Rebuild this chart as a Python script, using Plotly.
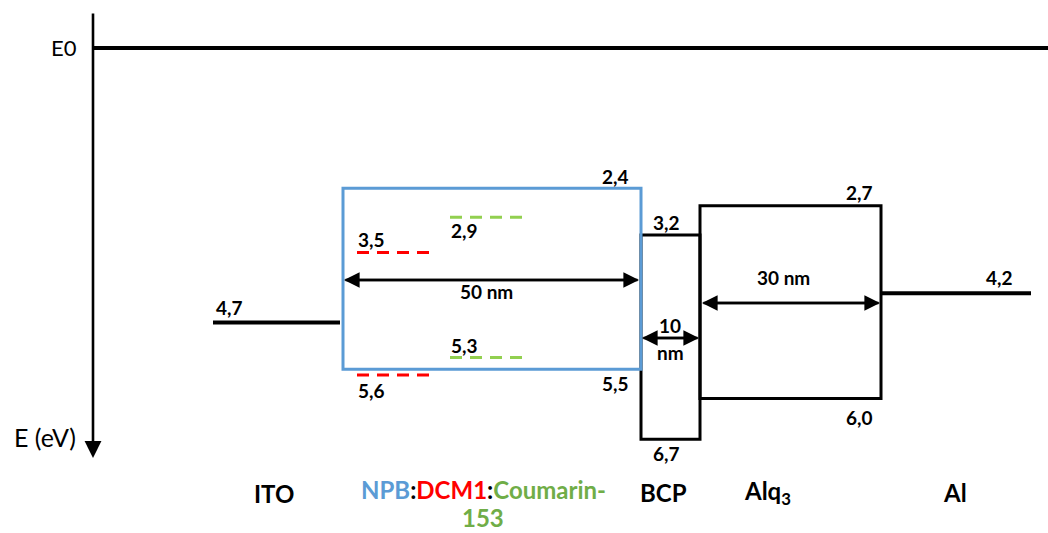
import plotly.graph_objects as go

# ---- energy levels (eV below vacuum) ----
layers = ["ITO", "NPB", "BCP", "Alq3", "Al"]
lumo = [None, 2.4, 3.2, 2.7, None]
homo = [None, 5.5, 6.7, 6.0, None]
work_fn = {"ITO": 4.7, "Al": 4.2}
dopant_names = ["DCM1", "Coumarin-153"]
dopant_lumo = [3.5, 2.9]
dopant_homo = [5.6, 5.3]
thickness_nm = {"NPB": 50, "BCP": 10, "Alq3": 30}
vacuum_level = 0.0

# ---- geometry (horizontal extents in px) ----
W, H = 1048, 533
X_AXIS = 93
span = {"ITO": (213, 340), "NPB": (343, 641), "BCP": (641, 700),
        "Alq3": (700, 881), "Al": (881, 1031)}
dopant_span = [(357, 430), (450, 523)]
PX_PER_EV, PX_ZERO = 58.4, 48.0

BLUE, RED, GREEN_DASH, GREEN_TXT = "#5B9BD5", "#FF0000", "#92D050", "#70AD47"
FONT = "Lato, 'Open Sans', sans-serif"
VAL_SIZE = 19
NAME_SIZE = 24


def py(px):
    """domain fraction for a pixel row"""
    return 1 - px / H


def fmt(v):
    return f"{v:.1f}".replace(".", ",")


fig = go.Figure()
shapes, ann = [], []


def hline(x0, x1, e, color="black", width=3, dash=None):
    shapes.append(dict(type="line", xref="x", yref="y", x0=x0, x1=x1, y0=e, y1=e,
                       line=dict(color=color, width=width, dash=dash)))


def label(x, e, text, yshift, size=VAL_SIZE, color="black", bold=True, xanchor="center"):
    t = f"<b>{text}</b>" if bold else text
    ann.append(dict(x=x, y=e, xref="x", yref="y", text=t, showarrow=False,
                    yshift=yshift, xanchor=xanchor, yanchor="middle",
                    font=dict(size=size, color=color, family=FONT)))


# vacuum level
hline(X_AXIS, W, vacuum_level, width=4)

# electrodes
hline(*span["ITO"], work_fn["ITO"], width=4)
hline(*span["Al"], work_fn["Al"], width=4)
label(229, work_fn["ITO"], fmt(work_fn["ITO"]), 15)
label(999, work_fn["Al"], fmt(work_fn["Al"]), 16)

# BCP and Alq3 boxes (black)
for name in ["BCP", "Alq3"]:
    i = layers.index(name)
    x0, x1 = span[name]
    shapes.append(dict(type="rect", xref="x", yref="y", x0=x0, x1=x1,
                       y0=lumo[i], y1=homo[i], line=dict(color="black", width=3)))

# NPB host box (blue) drawn on top
i = layers.index("NPB")
x0, x1 = span["NPB"]
shapes.append(dict(type="rect", xref="x", yref="y", x0=x0, x1=x1,
                   y0=lumo[i], y1=homo[i], line=dict(color=BLUE, width=3)))

# dopant levels
for (dx0, dx1), lu, ho, col in zip(dopant_span, dopant_lumo, dopant_homo, [RED, GREEN_DASH]):
    hline(dx0, dx1, lu, color=col, width=3, dash="12px,8px")
    hline(dx0, dx1, ho, color=col, width=3, dash="12px,8px")

# level labels
label(615, lumo[1], fmt(lumo[1]), 12)
label(615, homo[1], fmt(homo[1]), -14)
label(371, dopant_lumo[0], fmt(dopant_lumo[0]), 13)
label(371, dopant_homo[0], fmt(dopant_homo[0]), -15)
label(464, dopant_lumo[1], fmt(dopant_lumo[1]), -13)
label(464, dopant_homo[1], fmt(dopant_homo[1]), 12)
label(666, lumo[2], fmt(lumo[2]), 12)
label(666, homo[2], fmt(homo[2]), -14)
label(859, lumo[3], fmt(lumo[3]), 13)
label(859, homo[3], fmt(homo[3]), -19)


# thickness arrows
def dim_arrow(xa, xb, row):
    for tip, tail in [(xb, xa), (xa, xb)]:
        ann.append(dict(x=tip, y=py(row), ax=tail, ay=py(row), xref="x", yref="y domain",
                        axref="x", ayref="y domain", text="", showarrow=True,
                        arrowhead=2, arrowsize=1.3, arrowwidth=2.4, arrowcolor="black",
                        standoff=0, startstandoff=0))


def free_text(x, row, text, size=VAL_SIZE, color="black"):
    ann.append(dict(x=x, y=py(row), xref="x", yref="paper", text=f"<b>{text}</b>",
                    showarrow=False, xanchor="center", yanchor="middle", borderpad=0,
                    font=dict(size=size, color=color, family=FONT)))


dim_arrow(344, 639, 280)
free_text(486, 291, f"{thickness_nm['NPB']} nm")
dim_arrow(642, 699, 338)
free_text(670, 325, f"{thickness_nm['BCP']}")
free_text(670, 352, "nm")
dim_arrow(702, 880, 303)
free_text(783, 277, f"{thickness_nm['Alq3']} nm")

# energy axis (downward arrow)
ann.append(dict(x=X_AXIS, y=py(458), ax=X_AXIS, ay=py(12), xref="x", yref="y domain",
                axref="x", ayref="y domain", text="", showarrow=True, arrowhead=2,
                arrowsize=1.3, arrowwidth=2.6, arrowcolor="black",
                standoff=0, startstandoff=0))
ann.append(dict(x=79, y=vacuum_level, xref="x", yref="y", text="E0", showarrow=False,
                xanchor="right", yanchor="middle", yshift=1,
                font=dict(size=22, color="black", family=FONT)))
ann.append(dict(x=78, y=py(437), xref="x", yref="paper", text="E (eV)", showarrow=False,
                xanchor="right", yanchor="middle",
                font=dict(size=25, color="black", family=FONT)))

# layer names
host_line1 = (f"<span style='color:{BLUE}'>NPB</span>:"
              f"<span style='color:{RED}'>{dopant_names[0]}</span>:"
              f"<span style='color:{GREEN_TXT}'>{dopant_names[1].split('-')[0]}-</span>")
host_line2 = dopant_names[1].split("-")[1]
free_text(483, 490, host_line1, size=NAME_SIZE)
free_text(483, 517, host_line2, size=NAME_SIZE, color=GREEN_TXT)

names_html = {"ITO": "ITO", "BCP": "BCP", "Alq3": "Alq<sub>3</sub>", "Al": "Al"}
name_pos = {"ITO": (274, 493), "BCP": (663, 492), "Alq3": (767, 492), "Al": (955, 492)}
for name, html in names_html.items():
    x, row = name_pos[name]
    free_text(x, row, html, size=NAME_SIZE)

fig.update_layout(
    width=W, height=H, margin=dict(l=0, r=0, t=0, b=0),
    paper_bgcolor="white", plot_bgcolor="white",
    xaxis=dict(range=[0, W], visible=False, fixedrange=True),
    yaxis=dict(range=[(H - PX_ZERO) / PX_PER_EV, -PX_ZERO / PX_PER_EV],
               visible=False, fixedrange=True),
    shapes=shapes, annotations=ann, showlegend=False,
)

fig.write_html("out.html")
